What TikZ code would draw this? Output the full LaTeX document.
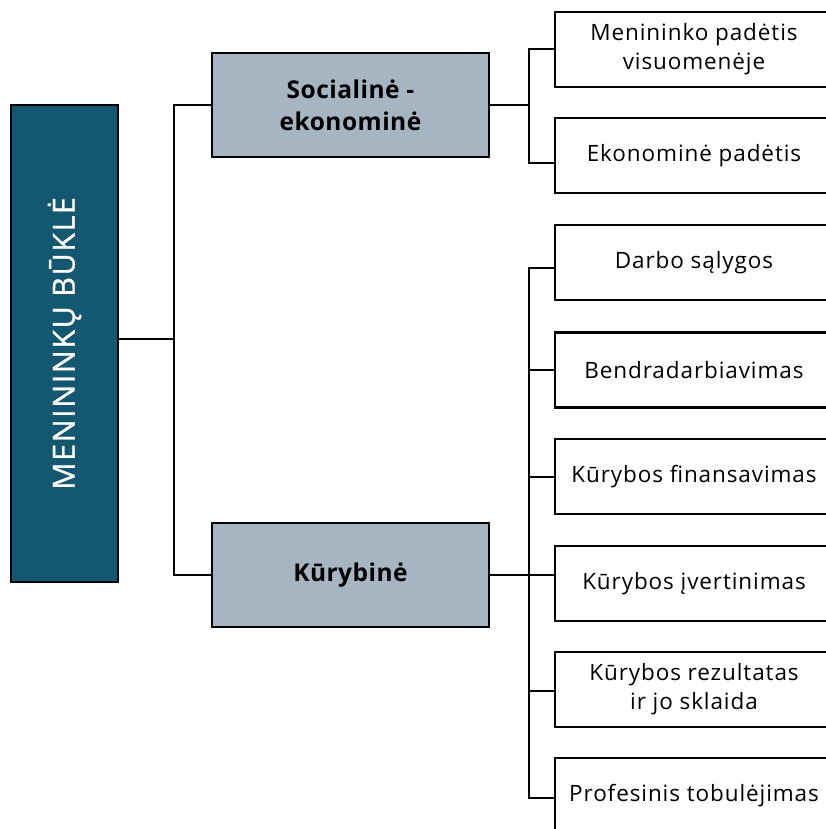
\documentclass[tikz,border=0pt]{standalone}
\usepackage{fontspec}
\setmainfont{Open Sans}[LetterSpace=4]
\newfontfamily\mainfont[LetterSpace=5,FakeBold=1]{Open Sans}
\newfontfamily\midfont[LetterSpace=2]{Open Sans}
\definecolor{mainc}{RGB}{19,88,112}
\definecolor{midc}{RGB}{165,181,194}
\begin{document}
\begin{tikzpicture}[x=1pt,y=-1pt,
  box/.style={draw=black, line width=2.7pt, inner sep=0pt, align=center},
  leaf/.style={box, fill=white, minimum width=278pt, minimum height=75pt, font=\fontsize{22.5}{29}\selectfont},
  mid/.style={box, fill=midc, minimum width=277pt, minimum height=104pt, font=\midfont\fontsize{24.5}{32}\selectfont\bfseries},
  conn/.style={draw=black, line width=2.7pt}]
\useasboundingbox (0,0) rectangle (826,829);
\clip (0,0) rectangle (826,829);
\node[box, fill=mainc, minimum width=107pt, minimum height=477pt] (main) at (64.5,343.5) {};
\node[rotate=90, text=white, font=\mainfont\fontsize{30.5}{36}\selectfont] (maintext) at (main.center) {MENININKŲ BŪKLĖ};
\node[mid] (se) at (350.5,105) {Socialinė -\\ekonominė};
\node[mid] (ku) at (350.5,575) {Kūrybinė};
\node[leaf] (r1) at (694,49.5) {Menininko padėtis\\visuomenėje};
\node[leaf] (r2) at (694,155.5) {Ekonominė padėtis};
\node[leaf] (r3) at (694,262.5) {Darbo sąlygos};
\node[leaf] (r4) at (694,370) {Bendradarbiavimas};
\node[leaf] (r5) at (694,476.5) {Kūrybos finansavimas};
\node[leaf] (r6) at (694,583.5) {Kūrybos įvertinimas};
\node[leaf] (r7) at (694,689.5) {Kūrybos rezultatas\\ir jo sklaida};
\node[leaf] (r8) at (694,795.5) {Profesinis tobulėjimas};
% main junction
\coordinate (m1) at (174,339);
\draw[conn] (main.east |- m1) -- (m1);
\draw[conn] (se.west) -| (m1) |- (ku.west);
% social branch
\coordinate (a1) at (529,49);
\coordinate (a2) at (529,163);
\draw[conn] (se.east) -- (se.east -| a1);
\draw[conn] (a1 -| r1.west) -- (a1) -- (a2) -- (a2 -| r2.west);
% creative branch
\coordinate (b3) at (529,268);
\coordinate (b4) at (529,370);
\coordinate (b5) at (529,477);
\coordinate (b7) at (529,691);
\coordinate (b8) at (529,798);
\draw[conn] (b3 -| r3.west) -- (b3) -- (b8) -- (b8 -| r8.west);
\draw[conn] (b4) -- (b4 -| r4.west);
\draw[conn] (b5) -- (b5 -| r5.west);
\draw[conn] (b7) -- (b7 -| r7.west);
\draw[conn] (ku.east) -- (ku.east -| r6.west);
\end{tikzpicture}
\end{document}
